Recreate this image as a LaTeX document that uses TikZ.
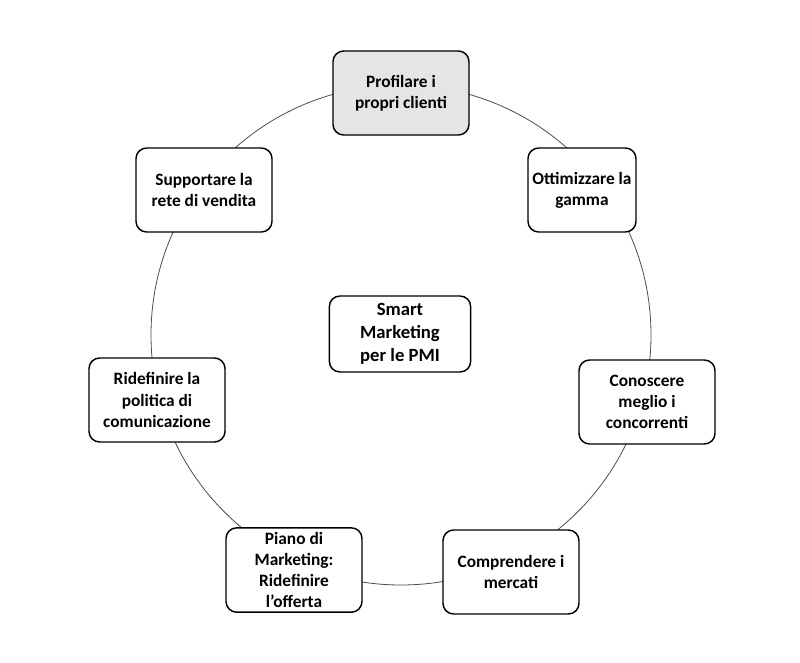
\documentclass[tikz,border=0pt]{standalone}
\usepackage{fontspec}
\setmainfont{Carlito}
\usetikzlibrary{positioning}
\tikzstyle{task} = [rectangle, rounded corners=8pt, minimum width=102pt, minimum height=63pt, text centered, align=center, draw=black, line width=1.1pt, fill=white, font=\bfseries\fontsize{13}{15.8}\selectfont]
\tikzstyle{ring} = [black!70, line width=0.6pt]

\begin{document}
\begin{tikzpicture}[x=0.75pt, y=-0.75pt]
    \useasboundingbox (0,0) rectangle (800,663);
    % Ring
    \draw[ring] (401,335) circle (250);
    % Centre
    \node[task, minimum width=106pt, minimum height=57pt, font=\bfseries\fontsize{14}{17}\selectfont] (smart) at (400,334) {Smart\\Marketing\\per le PMI};
    % Tasks around the ring
    \node[task, fill=black!10] (profilare) at (401,93) {Profilare i\\propri clienti};
    \node[task, minimum width=80pt] (ottimizzare) at (582,190) {Ottimizzare la\\gamma};
    \node[task] (conoscere) at (647,402) {Conoscere\\meglio i\\concorrenti};
    \node[task] (comprendere) at (511,572) {Comprendere i\\mercati};
    \node[task] (piano) at (294,570) {Piano di\\Marketing:\\Ridefinire\\l’offerta};
    \node[task] (ridefinire) at (157,400) {Ridefinire la\\politica di\\comunicazione};
    \node[task] (supportare) at (204,190) {Supportare la\\rete di vendita};
\end{tikzpicture}
\end{document}
